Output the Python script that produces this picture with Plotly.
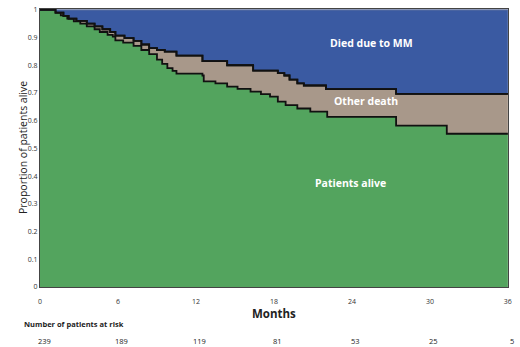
import plotly.graph_objects as go

# Step curve: boundary between "Patients alive" and "Other death"
alive_months = [0, 1.2, 1.6, 2.1, 2.6, 3.1, 3.6, 4.2, 4.6, 5.2, 5.6, 5.8, 6.4, 7.2, 7.8, 8.4,
                9.0, 9.4, 9.8, 10.2, 10.5, 12.5, 12.6, 13.5, 14.4, 15.2, 16.2, 17.0, 17.7, 18.3,
                18.9, 19.8, 20.8, 22.1, 27.4, 31.3, 36]
alive_prop = [1.0, 0.99, 0.98, 0.968, 0.958, 0.95, 0.94, 0.93, 0.92, 0.91, 0.903, 0.89, 0.882, 0.87,
              0.855, 0.84, 0.82, 0.805, 0.79, 0.78, 0.77, 0.763, 0.742, 0.735, 0.723, 0.715, 0.705,
              0.696, 0.687, 0.669, 0.656, 0.644, 0.633, 0.614, 0.582, 0.553, 0.553]

# Step curve: boundary between "Other death" and "Died due to MM"
mm_months = [0, 1.2, 1.8, 2.2, 2.8, 3.6, 4.2, 4.8, 5.4, 5.8, 6.5, 7.2, 7.8, 8.4, 9.0, 9.6,
             10.5, 12.5, 14.4, 16.4, 18.3, 18.8, 19.2, 19.8, 20.3, 22.0, 27.4, 36]
mm_prop = [1.0, 0.99, 0.978, 0.968, 0.96, 0.95, 0.94, 0.93, 0.92, 0.907, 0.898, 0.888, 0.875,
           0.862, 0.855, 0.849, 0.835, 0.815, 0.800, 0.781, 0.772, 0.763, 0.748, 0.735, 0.727,
           0.714, 0.697, 0.697]

top_months = [0, 36]
top_prop = [1.0, 1.0]

x_ticks = [0, 6, 12, 18, 24, 30, 36]
y_ticks = [0, 0.1, 0.2, 0.3, 0.4, 0.5, 0.6, 0.7, 0.8, 0.9, 1]
y_tick_text = ["0", "0.1", "0.2", "0.3", "0.4", "0.5", "0.6", "0.7", "0.8", "0.9", "1"]
risk_months = [0, 6, 12, 18, 24, 30, 36]
at_risk = [239, 189, 119, 81, 53, 25, 5]

region_labels = ["Died due to MM", "Other death", "Patients alive"]
region_x = [25.5, 25.1, 23.9]
region_y = [0.882, 0.672, 0.375]

GREEN = "#53A45E"
TAN = "#A8988A"
BLUE = "#3A5AA2"

fig = go.Figure()
fig.add_trace(go.Scatter(x=alive_months, y=alive_prop, mode="lines", line_shape="hv",
                         line=dict(color="#111", width=1.8), fill="tozeroy", fillcolor=GREEN,
                         hoverinfo="skip", showlegend=False))
fig.add_trace(go.Scatter(x=mm_months, y=mm_prop, mode="lines", line_shape="hv",
                         line=dict(color="#111", width=1.8), fill="tonexty", fillcolor=TAN,
                         hoverinfo="skip", showlegend=False))
fig.add_trace(go.Scatter(x=top_months, y=top_prop, mode="lines",
                         line=dict(color="#6a7aa0", width=1), fill="tonexty", fillcolor=BLUE,
                         hoverinfo="skip", showlegend=False))
# redraw boundary lines on top
fig.add_trace(go.Scatter(x=mm_months, y=mm_prop, mode="lines", line_shape="hv",
                         line=dict(color="#111", width=1.8), hoverinfo="skip", showlegend=False))

for t, x, y in zip(region_labels, region_x, region_y):
    fig.add_annotation(x=x, y=y, text=f"<b>{t}</b>", showarrow=False,
                       font=dict(family="Open Sans", size=10.5, color="white"))

for m, n in zip(risk_months, at_risk):
    fig.add_annotation(x=m, y=0, yref="paper", yanchor="middle", yshift=-54, text=str(n),
                       showarrow=False, xshift=4,
                       font=dict(family="Open Sans", size=7.5, color="#222"))

fig.add_annotation(x=0, xref="paper", xanchor="left", xshift=-18, y=0, yref="paper",
                   yanchor="middle", yshift=-37,
                   text="<b>Number of patients at risk</b>", showarrow=False,
                   font=dict(family="Open Sans", size=7.5, color="#222"))
fig.add_annotation(x=18, y=0, yref="paper", yanchor="middle", yshift=-26,
                   text="<b>Months</b>", showarrow=False,
                   font=dict(family="Open Sans", size=11.5, color="#222"))
fig.add_annotation(x=0, xref="paper", xshift=-26, y=0.5, yref="paper",
                   text="Proportion of patients alive", textangle=-90, showarrow=False,
                   font=dict(family="Open Sans", size=10.5, color="#222"))

fig.update_xaxes(range=[0, 36.01], tickvals=x_ticks, showgrid=False, zeroline=False,
                 showline=True, mirror=True, linecolor="#444", linewidth=1,
                 ticks="outside", ticklen=8, tickcolor="rgba(0,0,0,0)",
                 tickfont=dict(family="Open Sans", size=7, color="#333"))
fig.update_yaxes(range=[0, 1.003], tickvals=y_ticks, ticktext=y_tick_text, showgrid=False,
                 zeroline=False, showline=True, mirror=True, linecolor="#444", linewidth=1,
                 ticks="", tickfont=dict(family="Open Sans", size=7, color="#333"))

fig.update_layout(width=520, height=347, margin=dict(l=40, r=12, t=5, b=60),
                  paper_bgcolor="white", plot_bgcolor="white")
fig.write_html("out.html", config={"displayModeBar": False},
               post_script="document.body.style.margin='0';")
